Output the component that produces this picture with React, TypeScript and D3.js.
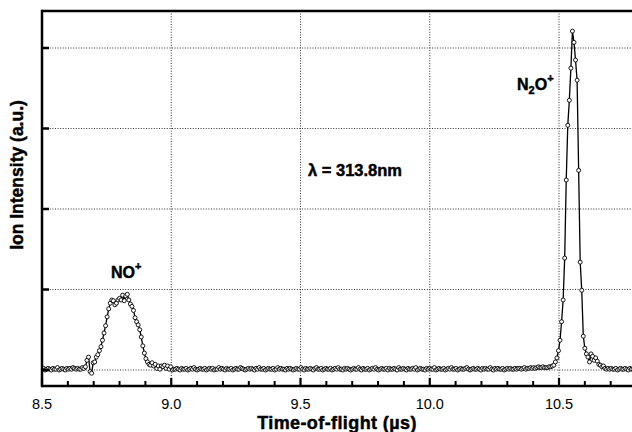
import React from "react";
import * as d3 from "d3";

// Time-of-flight sampling (µs)
const tofStart = 8.5;
const tofStep = 0.006;

// Ion intensity (a.u.), in consecutive segments
const baselineA = [0.01,0.02,0.00,0.01,0.02,0.01,0.00,0.02,0.01,0.01,0.03,0.00,0.01,0.02,0.01,0.00,0.02,0.01,0.02,0.01,0.03,0.02,0.01,0.02];
const noPeak = [0.01,0.01,0.03,0.02,0.04,0.12,0.16,-0.02,-0.04,0.09,0.10,0.16,0.19,0.24,0.29,0.37,0.46,0.55,0.66,0.76,0.83,0.87,0.86,0.81,0.83,0.87,0.89,0.87,0.93,0.86,0.92,0.94,0.87,0.82,0.79,0.74,0.65,0.60,0.56,0.50,0.41,0.30,0.21,0.14,0.10,0.07,0.06,0.09,0.05,0.07,0.02,0.05,0.01,0.05,0.04,0.06,0.02,0.05,0.01,0.04,0.00,0.01];
const baselineB = [
  0.01,0.02,0.01,0.00,0.02,0.01,0.01,0.02,0.00,0.01,0.02,0.01,0.03,0.01,0.00,0.01,0.02,0.01,0.01,0.02,
  0.00,0.01,0.02,0.01,0.02,0.00,0.01,0.01,0.03,0.01,0.02,0.01,0.00,0.02,0.01,0.01,0.02,0.00,0.01,0.02,
  0.01,0.01,0.03,0.02,0.01,0.00,0.01,0.02,0.01,0.02,0.01,0.00,0.02,0.01,0.03,0.01,0.01,0.02,0.00,0.01,
  0.02,0.01,0.01,0.02,0.00,0.01,0.03,0.01,0.02,0.01,0.01,0.00,0.02,0.01,0.02,0.01,0.00,0.01,0.02,0.01,
  0.01,0.03,0.01,0.00,0.02,0.01,0.01,0.02,0.01,0.00,0.02,0.03,0.01,0.01,0.02,0.00,0.01,0.02,0.01,0.01,
  0.02,0.00,0.01,0.02,0.01,0.03,0.01,0.01,0.00,0.02,0.01,0.02,0.01,0.00,0.01,0.02,0.01,0.01,0.03,0.01,
  0.00,0.02,0.01,0.01,0.02,0.00,0.01,0.02,0.01,0.03,0.01,0.00,0.01,0.02,0.01,0.01,0.02,0.00,0.02,0.01,
  0.01,0.02,0.01,0.00,0.03,0.01,0.01,0.02,0.01,0.00,0.02,0.01,0.01,0.02,0.01,0.03,0.00,0.01,0.02,0.01,
  0.01,0.00,0.02,0.01,0.02,0.01,0.01,0.03,0.00,0.01,0.02,0.01,0.01,0.02,0.00,0.01,0.02,0.01,0.03,0.01,
  0.01,0.02,0.00,0.01,0.02,0.01,0.01,0.02,0.03,0.01,0.00,0.01,0.02,0.01,0.01,0.02,0.01,0.00,0.02,0.01,
  0.02,0.01,0.01,0.03,0.01,0.00,0.02,0.01,0.02,0.01,0.01,0.02,0.00,0.01,0.02,0.01,0.02,0.01,0.01,0.02,
  0.01,0.02,0.02,0.01,0.02,0.03,0.01,0.02,0.02,0.03,0.02,0.03,0.02,0.03,0.04,0.03,0.03,0.04,0.03
];
const n2oPeak = [0.03,0.03,0.04,0.04,0.05,0.06,0.10,0.15,0.24,0.37,0.60,0.87,1.39,2.36,3.04,3.35,3.75,4.21,4.07,3.85,3.60,2.48,1.34,0.99,0.42,0.27,0.20,0.16,0.10,0.20,0.17,0.12,0.15,0.11,0.07,0.06,0.04,0.05,0.02,0.01,0.02];
const baselineC = [0.01,0.02,0.01,0.01,0.02,0.00,0.01,0.02,0.01,0.01,0.02,0.01,0.00,0.02,0.01,0.01,0.02,0.01,0.01];

const intensity = [...baselineA, ...noPeak, ...baselineB, ...n2oPeak, ...baselineC];
const samples = intensity.map((v, i) => ({ t: tofStart + i * tofStep, v }));

// Axes
const xMajorTicks = [8.5, 9.0, 9.5, 10.0, 10.5];
const xTickLabels = ["8.5", "9.0", "9.5", "10.0", "10.5"];
const xGridTicks = [9.0, 9.5, 10.0, 10.5];
const yGridTicks = [0, 1, 2, 3, 4];

const W = 632;
const H = 432;
const left = 42;
const right = 632;
const top = 11;
const bottom = 386;

export default function App() {
  const x = d3.scaleLinear().domain([8.5, 10.5]).range([left, 559]);
  const y = d3.scaleLinear().domain([0, 4]).range([370, 48]);
  const minorTicks = d3.range(8.5, 10.79, 0.1).filter(
    (t) => !xMajorTicks.some((m) => Math.abs(m - t) < 1e-6)
  );
  const line = d3
    .line<{ t: number; v: number }>()
    .x((d) => x(d.t))
    .y((d) => y(d.v));
  const gridStyle = { stroke: "#333", strokeWidth: 1, strokeDasharray: "1,1.6" };
  const font = "'Liberation Sans', Arial, sans-serif";
  const heavy = { stroke: "#000", strokeWidth: 0.45 };

  return (
    <svg
      width={W}
      height={H}
      style={{ position: "absolute", left: 0, top: 0, background: "#fff" }}
    >
      <defs>
        <clipPath id="plotClip">
          <rect x={left} y={top} width={right - left} height={bottom - top} />
        </clipPath>
      </defs>
      <rect x={0} y={0} width={W} height={H} fill="#fff" />
      {/* grid */}
      {xGridTicks.map((t) => (
        <line key={"gx" + t} x1={x(t)} x2={x(t)} y1={top} y2={bottom} {...gridStyle} />
      ))}
      {yGridTicks.map((v) => (
        <line key={"gy" + v} x1={left} x2={right} y1={y(v)} y2={y(v)} {...gridStyle} />
      ))}
      {/* data */}
      <g clipPath="url(#plotClip)">
        <path d={line(samples) || ""} fill="none" stroke="#000" strokeWidth={1.3} />
        {samples.map((d, i) => (
          <circle
            key={i}
            cx={x(d.t)}
            cy={y(d.v)}
            r={2}
            fill="#fff"
            stroke="#000"
            strokeWidth={0.9}
          />
        ))}
      </g>
      {/* frame */}
      <line x1={left} x2={right} y1={top} y2={top} stroke="#000" strokeWidth={2.5} />
      <line x1={left} x2={left} y1={top - 1.2} y2={bottom + 1.2} stroke="#000" strokeWidth={2.5} />
      <line x1={left} x2={right} y1={bottom} y2={bottom} stroke="#000" strokeWidth={2.5} />
      {/* y ticks */}
      {yGridTicks.map((v) => (
        <line key={"yt" + v} x1={left} x2={left + 7} y1={y(v)} y2={y(v)} stroke="#000" strokeWidth={2.5} />
      ))}
      {/* x ticks */}
      {minorTicks.map((t) => (
        <line key={"xm" + t} x1={x(t)} x2={x(t)} y1={bottom} y2={bottom - 5} stroke="#000" strokeWidth={2} />
      ))}
      {xMajorTicks.map((t) => (
        <line key={"xM" + t} x1={x(t)} x2={x(t)} y1={bottom} y2={bottom - 8} stroke="#000" strokeWidth={2.2} />
      ))}
      {xMajorTicks.map((t, i) => (
        <text
          key={"xl" + t}
          x={x(t)}
          y={408.5}
          textAnchor="middle"
          fontFamily={font}
          fontSize={14.5}
          fill="#000"
        >
          {xTickLabels[i]}
        </text>
      ))}
      {/* axis titles */}
      <text
        x={337}
        y={429}
        textAnchor="middle"
        fontFamily={font}
        fontWeight="bold"
        fontSize={18}
        letterSpacing={0.4}
        fill="#000"
        {...heavy}
      >
        Time-of-flight (µs)
      </text>
      <text
        transform="translate(23,175) rotate(-90)"
        textAnchor="middle"
        fontFamily={font}
        fontWeight="bold"
        fontSize={17.5}
        fill="#000"
        {...heavy}
      >
        Ion Intensity (a.u.)
      </text>
      {/* annotations */}
      <text x={111} y={278} fontFamily={font} fontWeight="bold" fontSize={16} fill="#000" {...heavy}>
        NO<tspan fontSize={11} dy={-8}>+</tspan>
      </text>
      <text x={517} y={90} fontFamily={font} fontWeight="bold" fontSize={16} fill="#000" {...heavy}>
        N<tspan fontSize={11} dy={4}>2</tspan>
        <tspan fontSize={16} dy={-4}>O</tspan>
        <tspan fontSize={11} dy={-8}>+</tspan>
      </text>
      <text x={308} y={176} fontFamily={font} fontWeight="bold" fontSize={16.5} fill="#000" {...heavy}>
        λ = 313.8nm
      </text>
    </svg>
  );
}
